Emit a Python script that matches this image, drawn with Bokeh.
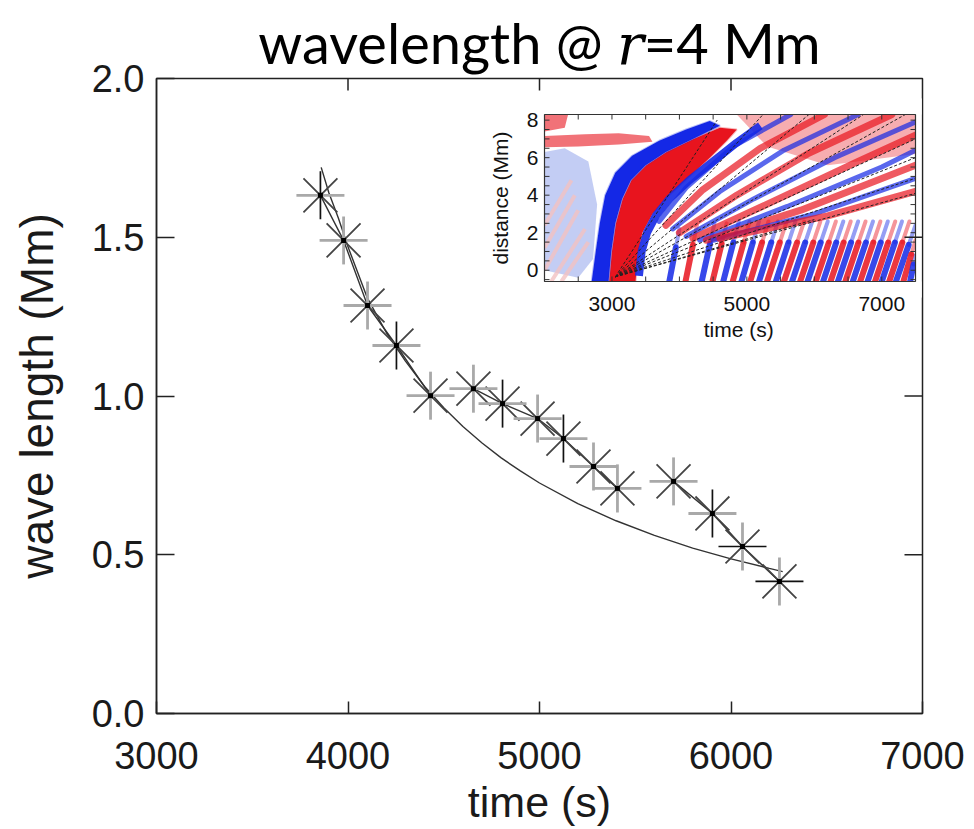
import numpy as np
from bokeh.plotting import figure
from bokeh.models import Range1d, FixedTicker, PrintfTickFormatter, Title
from bokeh.embed import file_html
from bokeh.resources import INLINE
from bokeh.core.properties import value

# ---------------- main panel data ----------------
time_s = [3856, 3977, 4102, 4253, 4431, 4655, 4807, 4990, 5125, 5282, 5407, 5700, 5903, 6060, 6253]
wavelength_mm = [1.632, 1.490, 1.285, 1.159, 1.001, 1.023, 0.976, 0.929, 0.866, 0.778, 0.709,
                 0.731, 0.630, 0.526, 0.416]
line_groups = [[0, 1, 2, 3, 4], [5, 6, 7, 8, 9, 10], [11, 12, 13, 14]]

fit_time = [3860, 3900, 3950, 4000, 4100, 4200, 4300, 4400, 4500, 4600, 4700, 4800, 4900,
            5000, 5200, 5400, 5600, 5800, 6000, 6200, 6270]
fit_wavelength = [1.72, 1.64, 1.56, 1.47, 1.31, 1.20, 1.11, 1.03, 0.963, 0.904, 0.852, 0.805,
                  0.764, 0.726, 0.661, 0.607, 0.561, 0.521, 0.487, 0.457, 0.447]

x_ticks = [3000, 4000, 5000, 6000, 7000]
y_ticks = [0.0, 0.5, 1.0, 1.5, 2.0]

# style of the horizontal / vertical arms of each asterisk (as rendered in the picture)
h_arm_style = ["g", "g", "g", "g", "g", "g", "g", "g", "g", "g", "g", "g", "g", "k", "k"]
v_arm_style = ["k", "g", "g", "k", "g", "g", "k", "g", "k", "g", "g", "g", "k", "g", "g"]

title_text = "wavelength @ \U0001D45F=4 Mm"   # mathematical italic r

# ---------------- inset data (time-distance map) ----------------
inset_x_ticks = [3000, 5000, 7000]
inset_y_ticks = [0, 2, 4, 6, 8]

blue_band_t = [2700, 2760, 2820, 2900, 3050, 3300, 3700, 4100, 4450, 4600, 4200, 3800, 3500, 3280, 3150, 3050, 2990, 2950]
blue_band_d = [-0.6, 1.0, 2.5, 4.0, 5.2, 6.1, 6.9, 7.5, 7.95, 7.7, 7.0, 6.3, 5.6, 4.8, 3.8, 2.5, 1.0, -0.6]
red_band_t = [2960, 3000, 3060, 3160, 3290, 3510, 3810, 4210, 4600, 4850, 4700, 4450, 4150, 3850, 3600, 3450, 3380, 3350]
red_band_d = [-0.6, 1.0, 2.5, 3.8, 4.8, 5.6, 6.3, 7.0, 7.6, 7.5, 6.9, 6.0, 5.0, 4.0, 3.0, 2.0, 0.8, -0.6]
blue3_t = [3400, 3440, 3520, 3650, 3850, 4150, 4500, 4850, 5200]
blue3_d = [-0.3, 1.0, 2.0, 2.9, 3.8, 4.8, 5.8, 6.8, 7.7]

pale_blue_t = [2000, 2000, 2300, 2650, 2780, 2720, 2500]
pale_blue_d = [0.0, 6.3, 6.5, 5.8, 3.5, 0.6, -0.4]
red_streak_t = [2000, 2000, 2600, 3100, 3550, 3600, 3100, 2500]
red_streak_d = [6.55, 7.15, 7.25, 7.3, 7.15, 6.85, 6.7, 6.6]
red_corner_t = [2000, 2000, 2350, 2300]
red_corner_d = [7.4, 8.3, 8.3, 7.6]
red_wash_t = [4850, 7500, 7500, 6200, 5300]
red_wash_d = [8.3, 8.3, 6.2, 5.6, 6.6]
pale_streak_t0 = [2000, 2000, 2000, 2100, 2250]
pale_streak_d0 = [0.0, 1.2, 2.4, -0.6, -0.6]
pale_streak_t1 = [2500, 2450, 2400, 2600, 2650]
pale_streak_d1 = [3.2, 4.0, 4.8, 2.2, 1.5]

fan_t = [[3700, 4100, 4800, 5650], [3800, 4350, 5200, 6150],
         [3900, 4600, 5550, 6650], [4000, 4850, 5900, 7150],
         [4100, 5100, 6300, 7500], [4200, 5350, 6650, 7500],
         [4300, 5600, 7000, 7500], [4400, 5800, 7500],
         [4500, 6000, 7500], [4600, 6200, 7500]]
fan_d = [[2.6, 4.4, 6.6, 8.3], [2.4, 4.3, 6.5, 8.3],
         [2.2, 4.2, 6.4, 8.3], [2.0, 4.0, 6.2, 8.3],
         [1.8, 3.8, 6.0, 7.9], [1.7, 3.6, 5.8, 7.2],
         [1.6, 3.4, 5.5, 6.4], [1.6, 3.2, 5.6],
         [1.6, 3.0, 4.9], [1.7, 2.9, 4.2]]
fan_sign = ["-", "+", "-", "+", "-", "+", "-", "+", "-", "+"]

low_t0 = [3850, 4090, 4330, 4490, 4650, 4790, 4920, 5050, 5180, 5300, 5430, 5550, 5670, 5790,
          5900, 6020, 6130, 6240, 6350, 6460, 6570, 6680, 6790, 6900, 7000, 7110, 7210, 7320, 7420]
low_t1 = [4000, 4260, 4520, 4700, 4880, 5040, 5180, 5320, 5460, 5590, 5720, 5850, 5970, 6090,
          6200, 6320, 6430, 6540, 6650, 6760, 6870, 6980, 7090, 7200, 7300, 7410, 7500, 7500, 7500]
low_d1 = [2.2, 2.4, 2.5, 2.5, 2.6, 2.6, 2.6, 2.6, 2.6, 2.6, 2.6, 2.6, 2.6, 2.6,
          2.6, 2.6, 2.6, 2.6, 2.6, 2.6, 2.6, 2.6, 2.6, 2.6, 2.6, 2.6, 2.4, 1.6, 0.8]
low_sign = ["-", "+", "-", "+", "-", "+", "-", "+", "-", "+", "-", "+", "-", "+",
            "-", "+", "-", "+", "-", "+", "-", "+", "-", "+", "-", "+", "-", "+", "-"]

dash_origin_t, dash_origin_d = 3050, -0.35
dash_end_t = [4560, 5240, 5920, 6730, 7350, 7500, 7500, 7500, 7500, 6000]
dash_end_d = [8.0, 8.3, 8.3, 8.3, 8.3, 7.0, 6.0, 4.9, 4.1, 2.7]

# ---------------- layout constants ----------------
W, H = 974, 829
FL, FR, FT, FB = 156, 922, 78, 713           # main frame (page px)
IL, IR, IT, IB = 544, 915, 114, 281           # inset frame (page px)
T0, T1, D0, D1 = 2000, 7500, -0.6, 8.3        # inset data extent
RED, BLUE = "#e8141e", "#1428e6"
INK = "#1a1a1a"

p = figure(width=W, height=H, x_range=Range1d(3000, 7000), y_range=Range1d(0, 2.0),
           output_backend="svg", toolbar_location=None, title=None,
           min_border_left=FL, min_border_right=W - FR, min_border_top=FT,
           min_border_bottom=H - FB)
p.add_layout(Title(text=title_text, align="center", offset=16, standoff=6,
                   text_font="Lato, DejaVu Serif, DejaVu Sans", text_font_size="56px",
                   text_font_style="normal", text_color="black"), "above")
p.grid.visible = False
p.outline_line_color = "#222222"
p.outline_line_width = 1.5
p.background_fill_color = "white"
p.border_fill_color = "white"

tpp = (T1 - T0) / (IR - IL)   # seconds per px in inset
dpp = (D1 - D0) / (IB - IT)   # Mm per px in inset
p.extra_x_ranges = {"ix": Range1d(T0 - (IL - FL) * tpp, T1 + (FR - IR) * tpp)}
p.extra_y_ranges = {"iy": Range1d(D0 - (FB - IB) * dpp, D1 + (IT - FT) * dpp)}
kw = dict(x_range_name="ix", y_range_name="iy")

# ---- inset map ----
p.patch(pale_blue_t, pale_blue_d, fill_color="#b8c4f2", fill_alpha=0.85, line_color=None, **kw)
p.segment(pale_streak_t0, pale_streak_d0, pale_streak_t1, pale_streak_d1, line_color="#f2c2c2",
          line_width=4, line_alpha=0.8, **kw)
p.patch(red_wash_t, red_wash_d, fill_color=RED, fill_alpha=0.35, line_color=None, **kw)
p.patch(red_streak_t, red_streak_d, fill_color=RED, fill_alpha=0.6, line_color=None, **kw)
p.patch(red_corner_t, red_corner_d, fill_color=RED, fill_alpha=0.6, line_color=None, **kw)
low_col = [RED if s == "+" else BLUE for s in low_sign]
low_mid_t = [a + 0.65 * (b - a) for a, b in zip(low_t0, low_t1)]
low_mid_d = [D0 + 0.65 * (d - D0) for d in low_d1]
p.segment(low_mid_t, low_mid_d, low_t1, low_d1, line_color=low_col, line_width=4,
          line_alpha=0.45, line_cap="round", **kw)
p.segment(low_t0, [D0] * len(low_t0), low_mid_t, low_mid_d, line_color=low_col, line_width=6,
          line_alpha=0.85, line_cap="round", **kw)
fan_col = [RED if s == "+" else BLUE for s in fan_sign]
fan_w = [7 if s == "+" else 5 for s in fan_sign]
p.multi_line(fan_t, fan_d, line_color=fan_col, line_width=fan_w, line_alpha=0.7,
             line_join="round", line_cap="round", **kw)
p.patch(red_band_t, red_band_d, fill_color=RED, line_color=RED, line_alpha=0.3, line_width=2, **kw)
p.patch(blue_band_t, blue_band_d, fill_color=BLUE, line_color=BLUE, line_alpha=0.3, line_width=2, **kw)
p.line(blue3_t, blue3_d, line_color=BLUE, line_width=8, line_alpha=0.9, line_join="round", **kw)
p.segment([dash_origin_t] * len(dash_end_t), [dash_origin_d] * len(dash_end_t), dash_end_t, dash_end_d,
          line_color="#222222", line_width=1, line_dash="3 2", **kw)

# white masks to clip the map at its frame
pad = 16
rm = T1 + (FR - IR - 1) * tpp
p.quad(left=[T0 - pad * tpp, T1, T0 - pad * tpp, T0 - pad * tpp],
       right=[T0, rm, rm, rm],
       bottom=[D0 - pad * dpp, D0 - pad * dpp, D1, D0 - pad * dpp],
       top=[D1 + pad * dpp, D1 + pad * dpp, D1 + pad * dpp, D0],
       fill_color="white", line_color=None, **kw)
# inset frame, ticks, labels
p.quad(left=[T0], right=[T1], bottom=[D0], top=[D1], fill_color=None, line_color="#333333",
       line_width=1.2, **kw)
xt = list(range(2500, 7001, 500))
tl = 5 * dpp
p.segment(xt, [D0] * len(xt), xt, [D0 + tl] * len(xt), line_color="#333333", **kw)
p.segment(xt, [D1] * len(xt), xt, [D1 - tl] * len(xt), line_color="#333333", **kw)
yt = [v / 2 for v in range(-1, 17)]
tlx = 5 * tpp
p.segment([T0] * len(yt), yt, [T0 + tlx] * len(yt), yt, line_color="#333333", **kw)
p.segment([T1] * len(yt), yt, [T1 - tlx] * len(yt), yt, line_color="#333333", **kw)
p.text(x=inset_x_ticks, y=[D0 - 15 * dpp] * 3, text=[str(v) for v in inset_x_ticks],
       text_font=value("Liberation Sans"), text_font_size="21px", text_align="center",
       text_baseline="top", text_color="#111111", **kw)
p.text(x=[T0 - 6 * tpp] * 5, y=inset_y_ticks, text=[str(v) for v in inset_y_ticks],
       text_font=value("Liberation Sans"), text_font_size="21px", text_align="right",
       text_baseline="middle", text_color="#111111", **kw)
p.text(x=[(T0 + T1) / 2 + 130], y=[D0 - 36 * dpp], text=["time (s)"],
       text_font=value("Liberation Sans"), text_font_size="21px", text_align="center",
       text_baseline="top", text_color="#111111", **kw)
p.text(x=[T0 - 44 * tpp], y=[(D0 + D1) / 2], text=["distance (Mm)"], angle=np.pi / 2,
       text_font=value("Liberation Sans"), text_font_size="21px", text_align="center",
       text_baseline="middle", text_color="#111111", **kw)

# ---- main panel marks ----
p.line(fit_time, fit_wavelength, line_color="#333333", line_width=1.4)
p.multi_line([[time_s[i] for i in g] for g in line_groups],
             [[wavelength_mm[i] for i in g] for g in line_groups],
             line_color="#333333", line_width=1.4)
style_col = {"g": "#a9a9a9", "k": "#111111"}
style_w = {"g": 2.8, "k": 1.7}
p.scatter(time_s, wavelength_mm, marker="x", size=48, line_color="#444444", line_width=1.8)
p.scatter(time_s, wavelength_mm, marker="dash", size=48,
          line_color=[style_col[s] for s in h_arm_style],
          line_width=[style_w[s] for s in h_arm_style])
p.scatter(time_s, wavelength_mm, marker="dash", size=48, angle=np.pi / 2,
          line_color=[style_col[s] for s in v_arm_style],
          line_width=[style_w[s] for s in v_arm_style])
p.scatter(time_s, wavelength_mm, marker="square", size=5, fill_color="black", line_color=None)

# mirrored ticks on the top and right edges (drawn as marks)
xr = (7000 - 3000) / (FR - FL)
yr = 2.0 / (FB - FT)
inner_x = x_ticks[1:-1]
inner_y = y_ticks[1:-1]
p.segment(inner_x, [2.0] * len(inner_x), inner_x, [2.0 - 12 * yr] * len(inner_x),
          line_color="#222222", line_width=1.5)
p.segment([7000] * len(inner_y), inner_y, [7000 - 18 * xr] * len(inner_y), inner_y,
          line_color="#222222", line_width=1.5)

# ---- axes ----
font = "Liberation Sans"
for ax in [p.xaxis[0], p.yaxis[0]]:
    ax.major_label_text_font = font
    ax.major_label_text_font_size = "38px"
    ax.major_label_text_color = INK
    ax.axis_label_text_font = font
    ax.axis_label_text_font_style = "normal"
    ax.axis_label_text_color = INK
    ax.axis_line_color = "#222222"
    ax.axis_line_width = 1.5
    ax.major_tick_out = 0
    ax.minor_tick_line_color = None
    ax.major_tick_line_color = "#222222"
    ax.major_tick_line_width = 1.5

p.xaxis[0].ticker = FixedTicker(ticks=x_ticks)
p.xaxis[0].axis_label = "time (s)"
p.xaxis[0].axis_label_text_font_size = "43px"
p.xaxis[0].major_tick_in = 12
p.xaxis[0].major_label_standoff = 28
p.xaxis[0].axis_label_standoff = 6
p.yaxis[0].ticker = FixedTicker(ticks=y_ticks)
p.yaxis[0].formatter = PrintfTickFormatter(format="%.1f")
p.yaxis[0].axis_label = "wave length (Mm)"
p.yaxis[0].axis_label_text_font_size = "46px"
p.yaxis[0].major_tick_in = 18
p.yaxis[0].major_label_standoff = 12
p.yaxis[0].axis_label_standoff = 26

open("out.html", "w").write(file_html(p, INLINE))
